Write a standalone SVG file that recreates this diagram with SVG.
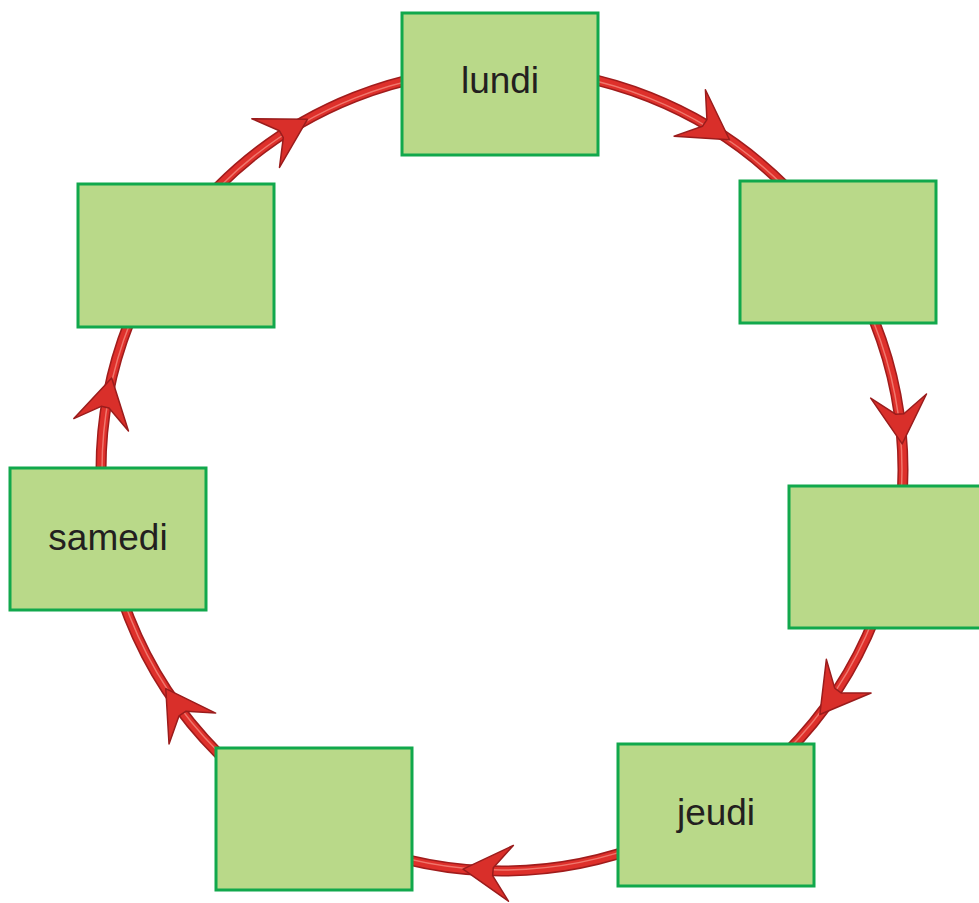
<svg xmlns="http://www.w3.org/2000/svg" xmlns:xlink="http://www.w3.org/1999/xlink" width="979" height="903" viewBox="0 0 979 903">
  <style>
    .box { fill: #b9d989; stroke: #11a84c; stroke-width: 3; }
    .lbl { font-family: "Liberation Sans", Arial, sans-serif; font-size: 37px; fill: #231f20; text-anchor: middle; }
    .ring-o { fill: none; stroke: #a01c1c; stroke-width: 11; }
    .ring-i { fill: none; stroke: #de302b; stroke-width: 8; }
    .ring-h { fill: none; stroke: #f4887d; stroke-width: 1.5; opacity: 0.8; }
    .arr { fill: #d92f2a; stroke: #9a1c1c; stroke-width: 1.5; stroke-linejoin: round; }
  </style>
  <defs>
    <path id="arrowhead" class="arr" d="M4,0 L-44,-28 L-26,-4 L-26,4 L-44,28 Z"/>
  </defs>
  <rect width="979" height="903" fill="#ffffff"/>
  <g id="connectors">
    <circle class="ring-o" cx="502" cy="470" r="401"/>
    <circle class="ring-i" cx="502" cy="470" r="401"/>
    <circle class="ring-h" cx="502" cy="470" r="400"/>
    <use xlink:href="#arrowhead" href="#arrowhead" transform="rotate(-119.6 502 470) translate(903 470) rotate(90)"/>
    <use xlink:href="#arrowhead" href="#arrowhead" transform="rotate(-56 502 470) translate(903 470) rotate(90)"/>
    <use xlink:href="#arrowhead" href="#arrowhead" transform="rotate(-4.3 502 470) translate(903 470) rotate(90)"/>
    <use xlink:href="#arrowhead" href="#arrowhead" transform="rotate(37 502 470) translate(903 470) rotate(90)"/>
    <use xlink:href="#arrowhead" href="#arrowhead" transform="rotate(95 502 470) translate(903 470) rotate(90)"/>
    <use xlink:href="#arrowhead" href="#arrowhead" transform="rotate(146.4 502 470) translate(903 470) rotate(90)"/>
    <use xlink:href="#arrowhead" href="#arrowhead" transform="rotate(192.7 502 470) translate(903 470) rotate(90)"/>
  </g>
  <g id="node-lundi">
    <rect class="box" x="402" y="13" width="196" height="142"/>
    <text class="lbl" x="500" y="93">lundi</text>
  </g>
  <g id="node-mardi">
    <rect class="box" x="740" y="181" width="196" height="142"/>
  </g>
  <g id="node-mercredi">
    <rect class="box" x="789" y="486" width="196" height="142"/>
  </g>
  <g id="node-jeudi">
    <rect class="box" x="618" y="744" width="196" height="142"/>
    <text class="lbl" x="716" y="825">jeudi</text>
  </g>
  <g id="node-vendredi">
    <rect class="box" x="216" y="748" width="196" height="142"/>
  </g>
  <g id="node-samedi">
    <rect class="box" x="10" y="468" width="196" height="142"/>
    <text class="lbl" x="108" y="550">samedi</text>
  </g>
  <g id="node-dimanche">
    <rect class="box" x="78" y="184" width="196" height="143"/>
  </g>
</svg>
